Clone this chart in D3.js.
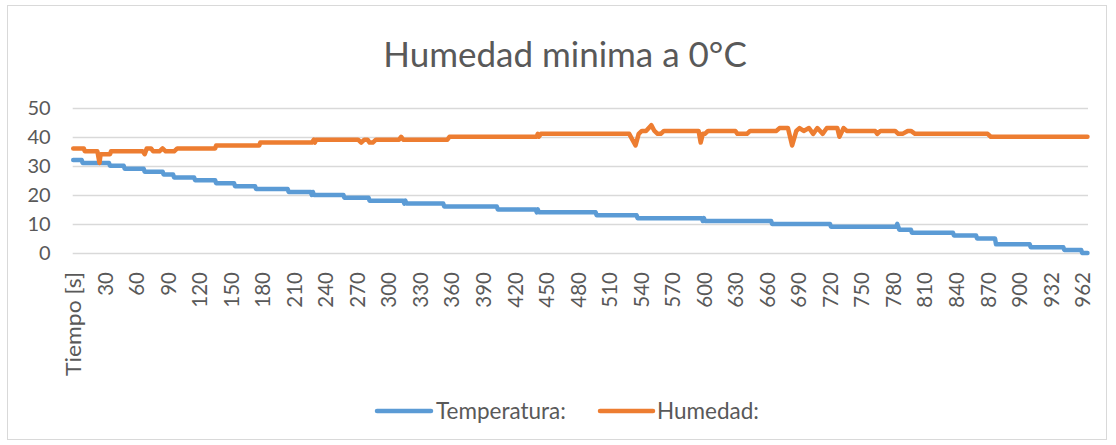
<!DOCTYPE html>
<html>
<head>
<meta charset="utf-8">
<script src="https://cdn.jsdelivr.net/npm/d3@7"></script>
<style>
  html, body { margin: 0; padding: 0; background: #ffffff; }
  svg { display: block; }
  text { font-family: Lato, "Open Sans", sans-serif; fill: #595959; }
</style>
</head>
<body>
<svg id="chart" width="1116" height="445"></svg>
<script>
// Number of samples on the category axis (one per reading)
const sampleCount = 966;

// Category labels shown every 30 samples
const tickLabels = ["Tiempo [s]", "30", "60", "90", "120", "150", "180", "210", "240", "270",
  "300", "330", "360", "390", "420", "450", "480", "510", "540", "570", "600", "630",
  "660", "690", "720", "750", "780", "810", "840", "870", "900", "932", "962"];
const tickEvery = 30;

const yTicks = [0, 10, 20, 30, 40, 50];

// Temperature readings: [sample, °C]
const temperatura = [
  [0,32],[8,32],[9,31],[34,31],[35,30],[48,30],[49,29],[67,29],[68,28],[85,28],[86,27],
  [95,27],[96,26],[115,26],[116,25],[135,25],[136,24],[153,24],[154,23],[173,23],[174,22],
  [204,22],[205,21],[226,21],[227,20],[228,21],[229,20],[257,20],[258,19],[281,19],[282,18],
  [314,18],[315,17],[316,18],[317,17],[352,17],[353,16],[403,16],[404,15],[440,15],[441,14],
  [442,15],[443,14],[497,14],[498,13],[536,13],[537,12],[598,12],[599,11],[600,12],[601,11],
  [664,11],[665,10],[720,10],[721,9],[783,9],[784,10],[786,8],[797,8],[798,7],[837,7],
  [838,6],[859,6],[860,5],[877,5],[878,3],[910,3],[911,2],[942,2],[943,1],[959,1],[960,0],
  [965,0]
];

// Relative humidity readings: [sample, %]
const humedad = [
  [0,36],[10,36],[11,35],[23,35],[25,31],[26,34],[35,34],[36,35],[66,35],[68,34],[70,36],
  [74,36],[76,35],[82,35],[85,36],[88,35],[96,35],[99,36],[135,36],[136,37],[177,37],
  [178,38],[227,38],[229,39],[230,38],[231,39],[271,39],[274,38],[277,39],[280,39],[282,38],
  [285,38],[288,39],[310,39],[312,40],[314,39],[356,39],[358,40],[441,40],[442,41],[443,40],
  [445,41],[529,41],[535,37],[538,41],[541,42],[545,42],[550,44],[553,42],[556,41],[559,41],
  [562,42],[595,42],[597,38],[599,41],[601,41],[604,42],[630,42],[632,41],[641,41],[644,42],
  [669,42],[672,43],[680,43],[684,37],[688,42],[691,43],[695,42],[700,43],[704,41],[708,43],
  [713,41],[717,43],[727,43],[729,40],[733,43],[736,42],[763,42],[765,41],[768,42],[782,42],
  [785,41],[789,41],[794,42],[797,42],[801,41],[870,41],[873,40],[965,40]
];

const series = [
  { name: "Temperatura:", color: "#5B9BD5", data: temperatura },
  { name: "Humedad:",     color: "#ED7D31", data: humedad }
];

const svg = d3.select("#chart");

// Outer chart border
svg.append("rect")
  .attr("x", 7.5).attr("y", 5.5)
  .attr("width", 1099).attr("height", 434)
  .attr("fill", "#ffffff")
  .attr("stroke", "#d9d9d9")
  .attr("stroke-width", 1);

const plot = { left: 72.7, right: 1088, top: 107.7, bottom: 253 };
const band = (plot.right - plot.left) / sampleCount;

const x = d3.scaleLinear()
  .domain([0, sampleCount - 1])
  .range([plot.left + band / 2, plot.right - band / 2]);

const y = d3.scaleLinear()
  .domain([0, 50])
  .range([plot.bottom, plot.top]);

// Title
svg.append("text")
  .attr("x", 565).attr("y", 67)
  .attr("text-anchor", "middle")
  .style("font-size", "35px")
  .text("Humedad minima a 0°C");

// Horizontal gridlines
svg.append("g")
  .selectAll("line")
  .data(yTicks)
  .join("line")
  .attr("x1", plot.left).attr("x2", plot.right)
  .attr("y1", d => Math.round(y(d)) + 0.5)
  .attr("y2", d => Math.round(y(d)) + 0.5)
  .attr("stroke", "#d9d9d9")
  .attr("stroke-width", 1.3);

// Y axis labels
const yAxis = svg.append("g")
  .attr("transform", `translate(${plot.left},0)`)
  .call(d3.axisLeft(y).tickValues(yTicks).tickSize(0).tickPadding(22));
yAxis.select(".domain").remove();
yAxis.selectAll("text")
  .style("font-size", "20px")
  .style("fill", "#595959")
  .style("font-family", "Lato, sans-serif");

// X axis labels (rotated category labels)
const xTickValues = tickLabels.map((_, i) => i * tickEvery);
const xAxis = svg.append("g")
  .attr("transform", `translate(0,${plot.bottom})`)
  .call(d3.axisBottom(x)
    .tickValues(xTickValues)
    .tickFormat((d, i) => tickLabels[i])
    .tickSize(0));
xAxis.select(".domain").remove();
xAxis.selectAll("text")
  .style("font-size", "20.5px")
  .style("fill", "#595959")
  .style("font-family", "Lato, sans-serif")
  .attr("text-anchor", "end")
  .attr("transform", "rotate(-90)")
  .attr("x", -19)
  .attr("y", 0)
  .attr("dy", "0.36em");
// The header label is set a little wider to fit its slot
xAxis.selectAll("text")
  .filter((d, i) => i === 0)
  .attr("textLength", 104)
  .attr("lengthAdjust", "spacingAndGlyphs");

// Series lines
const line = d3.line()
  .x(d => x(d[0]))
  .y(d => y(d[1]));

svg.append("g")
  .selectAll("path")
  .data(series)
  .join("path")
  .attr("d", d => line(d.data))
  .attr("fill", "none")
  .attr("stroke", d => d.color)
  .attr("stroke-width", 4.5)
  .attr("stroke-linejoin", "round")
  .attr("stroke-linecap", "round");

// Legend
const legendItems = [
  { x: 377, lineEnd: 431, textX: 436 },
  { x: 600, lineEnd: 653, textX: 657 }
];
const legend = svg.append("g");
series.forEach((s, i) => {
  const it = legendItems[i];
  legend.append("line")
    .attr("x1", it.x).attr("x2", it.lineEnd)
    .attr("y1", 411).attr("y2", 411)
    .attr("stroke", s.color)
    .attr("stroke-width", 4.5)
    .attr("stroke-linecap", "round");
  legend.append("text")
    .attr("x", it.textX).attr("y", 418.5)
    .style("font-size", "22.5px")
    .text(s.name);
});
</script>
</body>
</html>
